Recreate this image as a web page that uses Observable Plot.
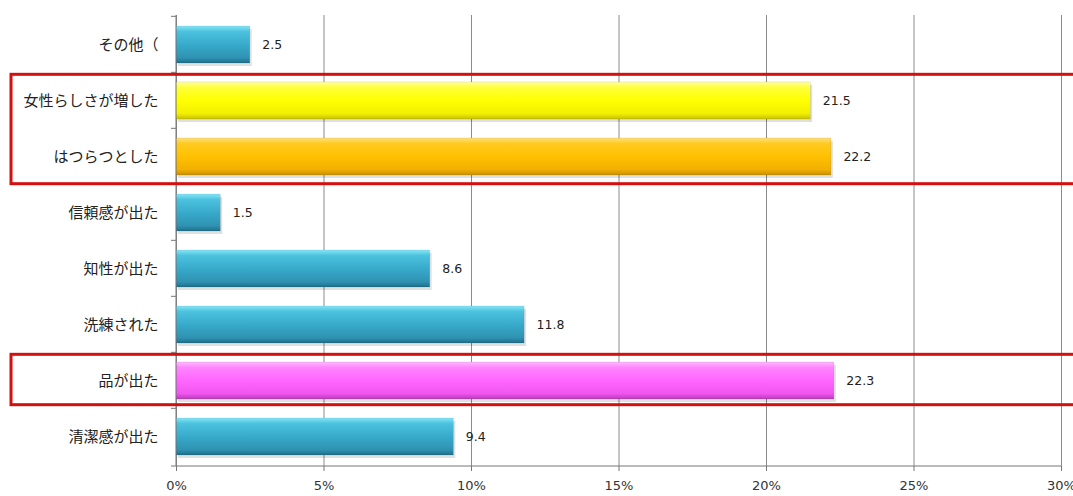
<!DOCTYPE html>
<html><head><meta charset="utf-8">
<script src="https://cdn.jsdelivr.net/npm/d3@7"></script>
<script src="https://cdn.jsdelivr.net/npm/@observablehq/plot@0.6"></script>
<style>
html,body{margin:0;padding:0;background:#fff;}
#chart svg{display:block;}
</style>
</head><body><div id="chart"></div>
<script>
const categories = ["その他（","女性らしさが増した","はつらつとした","信頼感が出た","知性が出た","洗練された","品が出た","清潔感が出た"];
const values = [2.5,21.5,22.2,1.5,8.6,11.8,22.3,9.4];
const barColors = ["blue","yellow","orange","blue","blue","blue","magenta","blue"];
const xTicks = [0,5,10,15,20,25,30];
const highlightGroups = [["女性らしさが増した","はつらつとした"],["品が出た"]];

const gradients = {
  blue:    ["#86e6f8","#4cc2de","#38aacb","#2f93b3","#1f6f8a"],
  yellow:  ["#ffffa8","#ffff3a","#ffff00","#f2f000","#c9c200"],
  orange:  ["#ffe07a","#ffcb20","#ffc000","#f2b000","#c98f00"],
  magenta: ["#ffb8ff","#ff85ff","#ff66ff","#f055f0","#b83cb8"]
};

const data = categories.map((c,i)=>({cat:c, value:values[i], fill:`url(#grad-${barColors[i]})`}));

const W = 1073, H = 496;
const plot = Plot.plot({
  width: W, height: H,
  marginLeft: 176, marginRight: 12, marginTop: 15, marginBottom: 30,
  style: {fontFamily: "'DejaVu Sans', sans-serif", background: "#fff", color: "#333"},
  x: {domain: [0,30], ticks: xTicks, tickFormat: d => d + "%", label: null},
  y: {domain: categories, paddingInner: 0.34, paddingOuter: 0.17, label: null},
  color: {type: "identity"},
  marks: [
    Plot.gridX(xTicks, {stroke: "#8c8c8c", strokeOpacity: 1, strokeWidth: 1}),
    Plot.barX(data, {x: "value", y: "cat", fill: "#000", fillOpacity: 0.12, dx: 2, dy: 3}),
    Plot.barX(data, {x: "value", y: "cat", fill: "fill", stroke: "#0000002a", strokeWidth: 0.5}),
    Plot.text(data, {x: "value", y: "cat", text: d => d.value.toFixed(1), dx: 12, textAnchor: "start", fontSize: 12.5, fill: "#222"}),
    Plot.axisX({ticks: xTicks, tickFormat: d => d + "%", tickSize: 5, tickPadding: 9, fontSize: 13, stroke: "#777", fill: "#333", label: null}),
    Plot.axisY({tickSize: 0, tickPadding: 18, fontSize: 15, fontFamily: "'Noto Sans CJK JP', sans-serif", fill: "#222", label: null}),
    (index, scales, vals, dims) => {
      const g = d3.create("svg:g");
      const y = scales.y;
      const bw = y.bandwidth ? y.bandwidth() : 0;
      const step = (dims.height - dims.marginTop - dims.marginBottom) / categories.length;
      const gap = (step - bw) / 2;
      const x0 = dims.marginLeft, yb = dims.height - dims.marginBottom;
      g.append("line").attr("x1", x0).attr("x2", x0).attr("y1", dims.marginTop).attr("y2", yb).attr("stroke", "#777");
      g.append("line").attr("x1", x0).attr("x2", dims.width - dims.marginRight).attr("y1", yb).attr("y2", yb).attr("stroke", "#777");
      categories.forEach(c => {
        g.append("line").attr("x1", x0 - 5).attr("x2", x0).attr("y1", y(c) - gap).attr("y2", y(c) - gap).attr("stroke", "#777");
      });
      g.append("line").attr("x1", x0 - 5).attr("x2", x0).attr("y1", yb).attr("y2", yb).attr("stroke", "#777");
      highlightGroups.forEach((grp, k) => {
        const top = y(grp[0]) - gap + 2;
        const bot = y(grp[grp.length - 1]) + bw + gap - (k === 1 ? 4 : 1);
        g.append("rect").attr("x", 11).attr("y", top).attr("width", dims.width + 20).attr("height", bot - top)
          .attr("fill", "none").attr("stroke", "#d40f0f").attr("stroke-width", 3);
      });
      return g.node();
    }
  ]
});

const defs = d3.select(plot).insert("defs", ":first-child");
Object.entries(gradients).forEach(([k, stops]) => {
  const lg = defs.append("linearGradient").attr("id", "grad-" + k).attr("x1", 0).attr("y1", 0).attr("x2", 0).attr("y2", 1);
  const offs = [0, 0.15, 0.5, 0.85, 1];
  stops.forEach((s, i) => lg.append("stop").attr("offset", offs[i]).attr("stop-color", s));
});
document.getElementById("chart").appendChild(plot);
</script>
</body></html>
